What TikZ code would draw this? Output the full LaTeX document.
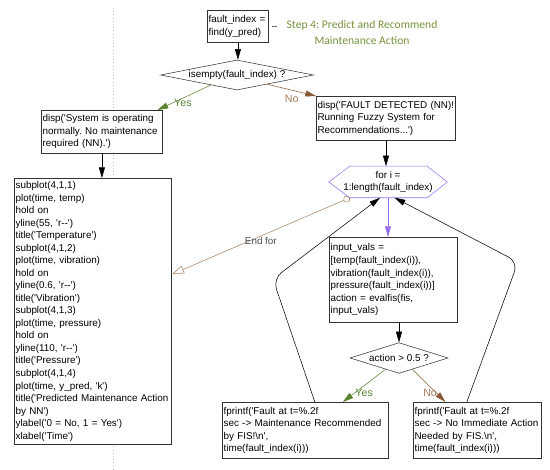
\documentclass[tikz,border=0pt]{standalone}
\usepackage{fontspec}
\newfontfamily\codefont{Liberation Sans}
\newfontfamily\notefont{Carlito}
\usepackage{tikz}
\usetikzlibrary{arrows.meta, positioning, shapes.geometric}
\definecolor{yesgreen}{RGB}{88, 130, 48}
\definecolor{nobrown}{RGB}{140, 90, 50}
\definecolor{loopviolet}{RGB}{150, 110, 240}
\definecolor{endtan}{RGB}{165, 130, 100}
\definecolor{stepgreen}{RGB}{118, 146, 60}
\frenchspacing

\begin{document}
\begin{tikzpicture}[x=0.75pt, y=-0.75pt, >={Triangle[length=8pt, width=4.5pt]},
   font=\codefont\fontsize{7.4}{9.4}\selectfont,
   box/.style={draw=black!80, fill=white, align=left, anchor=north west, inner xsep=1pt, inner ysep=2pt},
   ask/.style={draw=black!80, fill=white, diamond, inner sep=0pt},
   lbl/.style={font=\codefont\fontsize{8}{9}\selectfont}]
  \useasboundingbox (0,0) rectangle (550,470);
  \draw[black!25, dotted] (113,8) -- (113,470);
  % top of step 4
  \node[box, text width=44pt, minimum height=24pt] (find) at (207,10) {fault\_index =\\find(y\_pred)};
  \node[text=stepgreen, align=center, font=\notefont\fontsize{8.7}{12}\selectfont] (step) at (362,33) {Step 4: Predict and Recommend\\Maintenance Action};
  \draw[black!60] ([xshift=2.5pt]find.east) -- ([xshift=6pt]find.east);
  \node[ask, minimum width=114.75pt, minimum height=22.5pt, aspect=5] (isempty) at (237,75) {isempty(fault\_index) ?};
  \node[box, text width=89pt, minimum height=32pt] (normal) at (41,110) {disp('System is operating\\normally. No maintenance\\required (NN).')};
  \node[box, text width=102.6pt, minimum height=33pt] (fault) at (316,96) {disp('FAULT DETECTED (NN)!\\Running Fuzzy System for\\Recommendations...')};
  \draw[->] (find.south) -- (find.south |- isempty.north);
  \draw[->, yesgreen] (isempty.201) -- ([xshift=-4pt]normal.north east) node[lbl, pos=0.7, right=-3pt] {Yes};
  \draw[->, nobrown] (isempty.-17) -- (fault.north west) node[lbl, text=nobrown!80, pos=0.5, below=0pt] {No};
  % plots
  \node[box, text width=116.1pt, minimum height=199.5pt] (plots) at (14,178) {subplot(4,1,1)\\plot(time, temp)\\hold on\\yline(55, 'r--')\\title('Temperature')\\subplot(4,1,2)\\plot(time, vibration)\\hold on\\yline(0.6, 'r--')\\title('Vibration')\\subplot(4,1,3)\\plot(time, pressure)\\hold on\\yline(110, 'r--')\\title('Pressure')\\subplot(4,1,4)\\plot(time, y\_pred, 'k')\\title('Predicted Maintenance Action\\by NN')\\ylabel('0 = No, 1 = Yes')\\xlabel('Time')};
  \draw[->] (normal.south) -- (normal.south |- plots.north);
  % for loop
  \node[minimum width=88.5pt, minimum height=23.25pt, align=center, inner sep=0pt] (forloop) at (388,182) {for i =\\1:length(fault\_index)};
  \draw[loopviolet] (forloop.west) -- ([xshift=15.75pt]forloop.north west) -- ([xshift=-15pt]forloop.north east)
    -- (forloop.east) -- ([xshift=-15pt]forloop.south east) -- ([xshift=15.75pt]forloop.south west) -- cycle;
  \draw[->] (fault.south) -- (fault.south |- forloop.north);
  \node[box, text width=94.3pt, minimum height=63.75pt] (input) at (329,237) {input\_vals =\\{[}temp(fault\_index(i)),\\vibration(fault\_index(i)),\\pressure(fault\_index(i))]\\action = evalfis(fis,\\input\_vals)};
  \draw[->, loopviolet] (forloop.south) -- (forloop.south |- input.north);
  \node[ask, minimum width=73.5pt, minimum height=23pt, aspect=3.2] (action) at (399,358) {action > 0.5 ?};
  \draw[->] (action.north |- input.south) -- (action.north);
  \node[box, text width=122.85pt, minimum height=42pt] (maint) at (222,402) {fprintf('Fault at t=\%.2f\\sec -> Maintenance Recommended\\by FIS!\textbackslash n',\\time(fault\_index(i)))};
  \node[box, text width=94.35pt, minimum height=42pt] (noact) at (413,402) {fprintf('Fault at t=\%.2f\\sec -> No Immediate Action\\Needed by FIS.\textbackslash n',\\time(fault\_index(i)))};
  \draw[->, yesgreen] (action.220) -- ([xshift=28pt]maint.north) node[lbl, pos=0.72, right=-3pt] {Yes};
  \draw[->, nobrown] (action.-40) -- ([xshift=-24pt]noact.north) node[lbl, text=nobrown!80, pos=0.72, left=-4pt] {No};
  % loop back
  \coordinate (lc) at (273,279);
  \coordinate (rc) at (518,262);
  \draw[->, rounded corners=8pt] ([xshift=7pt]maint.north) -- (lc) -- ([xshift=-6pt]forloop.south);
  \draw[->, rounded corners=8pt] ([xshift=-8pt]noact.north) -- (rc) -- ([xshift=5pt]forloop.south);
  \draw[endtan, {Circle[open, length=5pt]}-{Triangle[open, length=9pt, width=6pt]}] ([xshift=15.75pt]forloop.south west) -- ([yshift=27.75pt]plots.east)
    node[midway, yshift=-4pt, text=black!70] {End for};
\end{tikzpicture}
\end{document}
